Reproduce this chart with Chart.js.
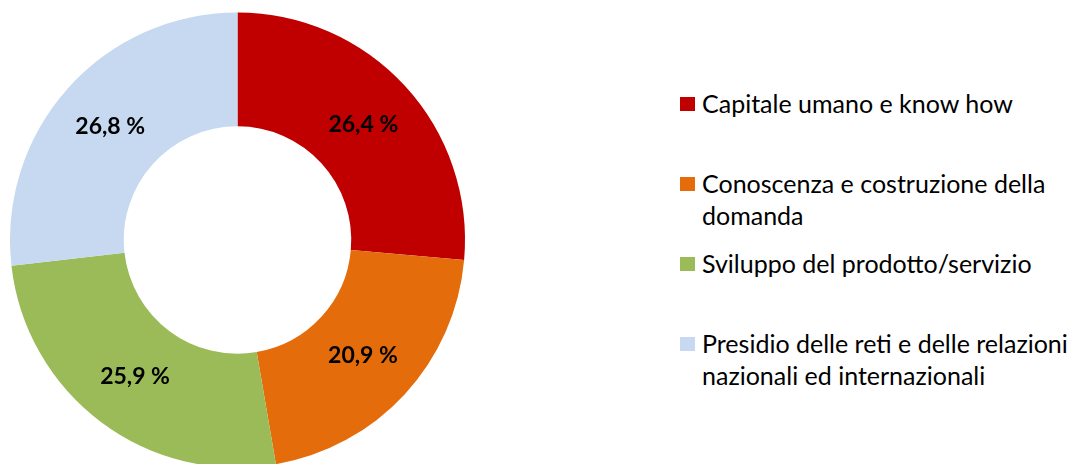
<!DOCTYPE html>
<html>
<head>
<meta charset="utf-8">
<script src="https://cdn.jsdelivr.net/npm/chart.js@4"></script>
<style>
  html, body { margin: 0; padding: 0; background: #fff; overflow: hidden; }
  body { width: 1071px; height: 464px; position: relative; font-family: Lato, "Open Sans", sans-serif; }
  #chartBox { position: absolute; left: 0; top: 0; width: 475px; height: 480px; }
  #legend { position: absolute; left: 680px; top: 87px; width: 391px; }
  .item { position: relative; height: 80px; padding-left: 22px; font-size: 25px; line-height: 32px; color: #000; white-space: nowrap; }
  .item .box { position: absolute; left: 0; top: 10px; width: 15px; height: 14px; }
</style>
</head>
<body>
<div id="chartBox"><canvas id="donut"></canvas></div>
<div id="legend"></div>
<script>
// categories (each entry is the wrapped lines shown in the legend)
const categories = [
  ["Capitale umano e know how"],
  ["Conoscenza e costruzione della", "domanda"],
  ["Sviluppo del prodotto/servizio"],
  ["Presidio delle reti e delle relazioni", "nazionali ed internazionali"],
];
// share of each category, %
const shares = [26.4, 20.9, 25.9, 26.8];
const sliceColors = ["#C00000", "#E46C0A", "#9BBB59", "#C6D9F1"];

// draws the "26,4 %" labels in the middle of each ring slice
const sliceLabels = {
  id: "sliceLabels",
  afterDatasetsDraw(chart) {
    const ctx = chart.ctx;
    const meta = chart.getDatasetMeta(0);
    ctx.save();
    ctx.font = "bold 23px Lato, 'Open Sans', sans-serif";
    ctx.fillStyle = "#000";
    ctx.textAlign = "center";
    ctx.textBaseline = "middle";
    meta.data.forEach((arc, i) => {
      const p = arc.tooltipPosition();
      const txt = shares[i].toFixed(1).replace(".", ",") + " %";
      ctx.fillText(txt, p.x, p.y);
    });
    ctx.restore();
  },
};

const ctx = document.getElementById("donut").getContext("2d");
const donut = new Chart(ctx, {
  type: "doughnut",
  data: {
    labels: categories,
    datasets: [
      {
        data: shares,
        backgroundColor: sliceColors,
        borderWidth: 0,
      },
    ],
  },
  options: {
    responsive: true,
    maintainAspectRatio: false,
    animation: false,
    cutout: "50%",
    layout: { padding: 10 },
    plugins: {
      legend: { display: false },
      tooltip: { enabled: false },
    },
  },
  plugins: [sliceLabels],
});

// html legend on the right
const legendEl = document.getElementById("legend");
categories.forEach((lines, i) => {
  const item = document.createElement("div");
  item.className = "item";
  item.innerHTML =
    '<span class="box" style="background:' + sliceColors[i] + '"></span>' +
    lines.join("<br>");
  legendEl.appendChild(item);
});
</script>
</body>
</html>
